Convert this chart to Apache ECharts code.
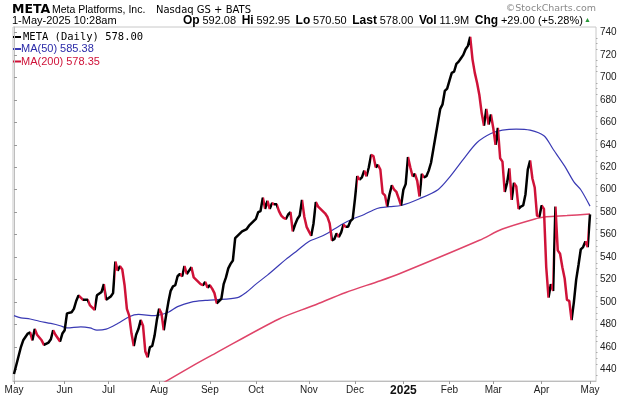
<!DOCTYPE html>
<html>
<head>
<meta charset="utf-8">
<title>META daily</title>
<script src="https://cdn.jsdelivr.net/npm/echarts@6/dist/echarts.min.js"></script>
<style>
  html, body { margin: 0; padding: 0; background: #fff; }
  #chart { width: 620px; height: 397px; }
</style>
</head>
<body>
<div id="chart"></div>
<script>
// x = trading day index, 0 = 1-May-2024, 250 = 1-May-2025
const days = [
  0, 1, 3, 4, 6, 7, 8, 9, 10, 12, 13, 15, 16, 17, 18, 20, 21, 22, 23, 25, 26, 27, 28, 30, 32, 33, 35, 36, 38, 39, 40,
  42, 43, 44, 45, 46, 47, 48, 49, 50, 51, 52, 53, 54, 55, 56, 57, 58, 59, 60, 61, 62,
  63, 64, 65, 66, 67, 68, 69, 70, 71, 72, 73, 74, 75, 76, 77, 78, 80, 81, 82, 83, 84,
  85, 86, 87, 88, 89, 90, 91, 92, 93, 94, 95, 96, 97, 98, 99, 101, 102, 104,
  105, 106, 107, 108, 109, 110, 111, 112, 113, 114, 115, 116, 117, 118, 119, 120, 121, 122, 123, 124, 125, 126, 127,
  128, 129, 130, 131, 132, 133, 134, 135, 136, 137, 138, 139, 140, 141, 142, 143, 144, 145, 146, 147,
  148, 149, 150, 151, 152, 153, 154, 155, 156, 157, 158, 159, 160, 161, 162, 163, 164, 165, 166, 167, 168,
  169, 170, 171, 172, 173, 174, 175, 176, 177, 178, 179, 180, 181, 182, 183, 184, 185, 186, 187, 188,
  189, 190, 191, 192, 193, 194, 195, 196, 197, 198, 199, 200, 201, 202, 203, 204, 205, 206, 207,
  208, 209, 210, 211, 212, 213, 214, 215, 216, 217, 218, 219, 220, 221, 222, 223, 224, 225, 226, 227, 228,
  229, 230, 231, 232, 233, 234, 235, 236, 237, 238, 239, 240, 241, 242, 243, 244, 245, 246, 247, 248, 249, 250
];
const closes = [
  436, 444, 460, 466, 472, 473, 466, 476, 471, 466, 462, 464, 467, 475, 471, 465, 472, 475, 490, 491, 494, 501, 506, 502, 502, 497, 493, 506, 509, 516, 502,
  505, 508, 536, 528, 532, 529, 515, 494, 488, 472, 461, 471, 476, 484, 479, 456, 451, 460, 461, 470, 484,
  494, 490, 475, 488, 500, 510, 514, 515, 523, 525, 523, 532, 525, 528, 531, 522, 518, 516, 515, 518, 513,
  515, 512, 508, 499, 501, 503, 516, 522, 530, 534, 537, 557, 559, 561, 563, 565, 568, 572,
  574, 580, 581, 593, 583, 590, 583, 588, 587, 587, 581, 577, 575, 574, 578, 580, 563, 569, 574, 577, 591, 576, 567,
  563, 559, 570, 589, 585, 583, 581, 579, 576, 570, 555, 556, 561, 558, 562, 569, 567, 567, 572, 574,
  592, 612, 609, 611, 617, 612, 620, 631, 630, 620, 622, 618, 597, 595, 585, 596, 604, 600, 598, 592, 586,
  600, 605, 629, 620, 612, 614, 608, 594, 614, 611, 612, 617, 624, 636, 648, 660, 672, 676, 688, 690,
  697, 704, 705, 712, 714, 717, 720, 725, 728, 736, 716, 704, 695, 684, 668, 657, 672, 658, 667,
  655, 640, 655, 628, 625, 598, 606, 619, 591, 606, 603, 583, 585, 586, 596, 618, 626, 610, 602, 577, 576,
  586, 583, 531, 504, 516, 510, 585, 546, 543, 531, 521, 502, 501, 484, 500, 520, 533, 547, 549, 554, 549, 578
];

const ma50Days = [0, 3, 7, 11, 16, 20, 23, 29, 33, 36, 40, 45, 50, 54, 61, 67, 71, 77, 83, 87, 97, 101, 105, 110, 114, 118, 123,
  128, 134, 139, 143, 147, 152, 156, 159, 163, 168, 176, 184, 189, 195, 201, 207, 212, 218, 224, 230, 234, 239, 243, 246, 250];
const ma50 = [488, 486, 485, 483, 481, 479, 477, 478, 477, 475, 476, 481, 487, 489, 488, 491, 496, 500, 501.5, 502, 504, 509, 516, 524, 531, 538, 546,
  554, 559, 565, 570, 574, 578, 582, 584, 585, 586, 592, 600, 611, 627, 642, 650, 653, 654, 653, 648, 636, 621, 607, 600, 585.4];

const ma200Days = [63, 79, 87, 115, 130, 144, 159, 167, 202, 212, 227, 231, 240, 250];
const ma200 = [426, 445, 454, 485, 497, 508.6, 519, 525, 555, 565, 574.5, 576, 577, 578.35];

const monthDays = [0, 22, 41, 63, 85, 105, 128, 148, 169, 189, 208, 229, 250];
const monthLabels = ['May', 'Jun', 'Jul', 'Aug', 'Sep', 'Oct', 'Nov', 'Dec', '2025', 'Feb', 'Mar', 'Apr', 'May'];
const yTicks = [440, 460, 480, 500, 520, 540, 560, 580, 600, 620, 640, 660, 680, 700, 720, 740];
const yMinorTicks = [];
for (let v = 435; v <= 745; v += 5) if (v % 20) yMinorTicks.push(v);

const seriesNames = ['META (Daily)', 'MA(50)', 'MA(200)'];
const lastValues = ['578.00', '585.38', '578.35'];
const quoteLabels = ['Op', 'Hi', 'Lo', 'Last', 'Vol', 'Chg'];
const quoteValues = ['592.08', '592.95', '570.50', '578.00', '11.9M', '+29.00 (+5.28%)'];

const RED = '#cf1238';
const BLUE = '#3a3ab4';
const PINK = '#df4469';

// falling days are drawn red, rising days black
const downPieces = [];
for (let i = 1; i < days.length; i++) {
  if (closes[i] < closes[i - 1]) {
    const last = downPieces[downPieces.length - 1];
    if (last && last.lte === days[i - 1]) last.lte = days[i];
    else downPieces.push({ gt: days[i - 1], lte: days[i], color: RED });
  }
}

const zip = (xs, ys) => xs.map((x, i) => [x, ys[i]]);

// header text
let quoteText = '';
quoteLabels.forEach((l, i) => {
  quoteText += (i ? '  ' : '') + '{b|' + l + '} {v|' + quoteValues[i] + '}';
});

const myChart = echarts.init(document.getElementById('chart'), null, { renderer: 'canvas' });

const Y_MIN = 429.8, Y_MAX = 744.8;

const option = {
  animation: false,
  backgroundColor: '#fff',
  grid: { left: 13, right: 24, top: 27, bottom: 14, show: true, borderColor: '#c8c8c8', borderWidth: 1 },
  xAxis: {
    type: 'value',
    min: -0.43,
    max: 252.6,
    splitLine: { show: false },
    axisLine: { show: true, lineStyle: { color: '#bdbdbd' } },
    axisTick: { show: true, customValues: monthDays, length: 3, lineStyle: { color: '#999' } },
    axisLabel: {
      customValues: monthDays,
      margin: 4,
      fontSize: 10,
      fontFamily: 'Liberation Sans',
      color: '#222',
      formatter: v => {
        const t = monthLabels[monthDays.indexOf(v)];
        return t === '2025' ? '{yr|2025}' : t;
      },
      rich: { yr: { fontWeight: 'bold', fontSize: 12, fontFamily: 'Liberation Sans', color: '#111' } }
    }
  },
  yAxis: [
    {
      type: 'value',
      position: 'right',
      min: Y_MIN,
      max: Y_MAX,
      splitLine: { show: false },
      axisLine: { show: true, lineStyle: { color: '#bdbdbd' } },
      axisTick: { show: true, customValues: yTicks, length: 3, lineStyle: { color: '#999' } },
      axisLabel: { customValues: yTicks, margin: 4, fontSize: 10, fontFamily: 'Liberation Sans', color: '#222' }
    },
    {
      // minor ticks only
      type: 'value',
      position: 'right',
      min: Y_MIN,
      max: Y_MAX,
      splitLine: { show: false },
      axisLine: { show: false },
      axisTick: { show: true, customValues: yMinorTicks, length: 1.5, lineStyle: { color: '#aaa' } },
      axisLabel: { show: false }
    }
  ],
  visualMap: {
    type: 'piecewise',
    show: false,
    seriesIndex: 0,
    dimension: 0,
    pieces: downPieces,
    outOfRange: { color: '#000' }
  },
  series: [
    {
      name: seriesNames[0],
      type: 'line',
      data: zip(days, closes),
      showSymbol: false,
      symbol: 'none',
      lineStyle: { width: 2.5 },
      z: 5
    },
    {
      name: seriesNames[1],
      type: 'line',
      data: zip(ma50Days, ma50),
      showSymbol: false,
      symbol: 'none',
      smooth: 0.3,
      lineStyle: { width: 1.2, color: BLUE },
      z: 3
    },
    {
      name: seriesNames[2],
      type: 'line',
      data: zip(ma200Days, ma200),
      showSymbol: false,
      symbol: 'none',
      smooth: 0.3,
      lineStyle: { width: 1.5, color: PINK },
      z: 3
    }
  ],
  graphic: [
    { type: 'text', style: { x: 12, y: 9.5, text: 'META', fontFamily: 'DejaVu Sans', fontWeight: 'bold', fontSize: 12.5, fill: '#000', verticalAlign: 'middle' } },
    { type: 'text', style: { x: 52, y: 10, text: 'Meta Platforms, Inc.', fontFamily: 'Liberation Sans', fontSize: 10.5, fill: '#000', verticalAlign: 'middle' } },
    { type: 'text', style: { x: 156, y: 10, text: 'Nasdaq GS + BATS', fontFamily: 'DejaVu Sans', fontSize: 10, fill: '#000', verticalAlign: 'middle' } },
    { type: 'text', style: { x: 596, y: 9, text: '\u00a9StockCharts.com', fontFamily: 'DejaVu Sans', fontSize: 9.5, fill: '#8a8a8a', align: 'right', verticalAlign: 'middle' } },
    { type: 'text', style: { x: 12, y: 20.5, text: '1-May-2025 10:28am', fontFamily: 'Liberation Sans', fontSize: 11, fill: '#000', verticalAlign: 'middle' } },
    {
      type: 'text',
      style: {
        x: 183, y: 20.5, text: quoteText, fontFamily: 'Liberation Sans', fontSize: 10, fill: '#000', verticalAlign: 'middle',
        rich: {
          b: { fontFamily: 'Liberation Sans', fontWeight: 'bold', fontSize: 12, fill: '#000' },
          v: { fontFamily: 'Liberation Sans', fontSize: 11, fill: '#000' }
        }
      }
    },
    { type: 'text', style: { x: 584, y: 20, text: '\u25b2', fontSize: 7, fill: '#2a9a3a', verticalAlign: 'middle' } },
    // legend
    { type: 'rect', shape: { x: 13, y: 36, width: 8, height: 2 }, style: { fill: '#000' } },
    { type: 'text', style: { x: 23, y: 37.5, text: seriesNames[0] + ' ' + lastValues[0], fontFamily: 'DejaVu Sans Mono', fontSize: 10.5, fill: '#000', verticalAlign: 'middle' } },
    { type: 'rect', shape: { x: 13, y: 48, width: 8, height: 2 }, style: { fill: BLUE } },
    { type: 'text', style: { x: 21, y: 49, text: seriesNames[1] + ' ' + lastValues[1], fontFamily: 'Liberation Sans', fontSize: 11, fill: '#2a2aa8', verticalAlign: 'middle' } },
    { type: 'rect', shape: { x: 13, y: 60.5, width: 8, height: 2 }, style: { fill: RED } },
    { type: 'text', style: { x: 21, y: 61.5, text: seriesNames[2] + ' ' + lastValues[2], fontFamily: 'Liberation Sans', fontSize: 11, fill: RED, verticalAlign: 'middle' } }
  ]
};

myChart.setOption(option);
</script>
</body>
</html>
